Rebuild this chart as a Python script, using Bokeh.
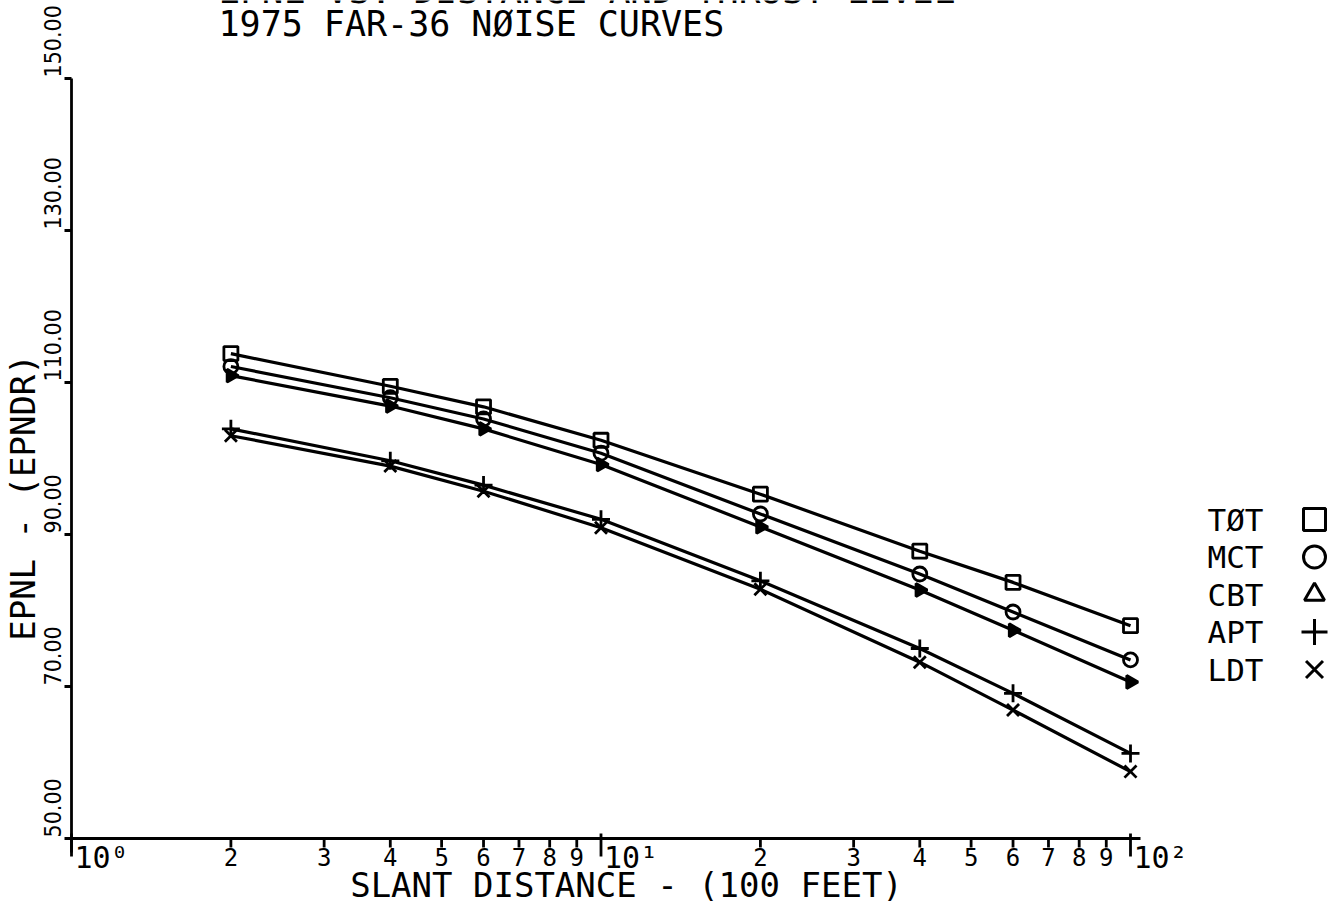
from math import pi, log10
from bokeh.plotting import figure
from bokeh.models import Range1d
from bokeh.core.properties import value
from bokeh.embed import file_html
from bokeh.resources import INLINE

# ---------------- data ----------------
distance = [2, 4, 6, 10, 20, 40, 60, 100]          # slant distance (100 ft)
series_names = ["TØT", "MCT", "CBT", "APT", "LDT"]
tot = [113.8, 109.5, 106.8, 102.4, 95.3, 87.8, 83.7, 78.0]
mct = [112.1, 108.0, 105.2, 100.7, 92.7, 84.8, 79.8, 73.5]
cbt = [110.9, 106.9, 103.9, 99.2, 91.0, 82.7, 77.4, 70.6]
apt = [103.9, 99.7, 96.5, 92.0, 83.9, 75.0, 69.1, 61.2]
ldt = [103.0, 99.0, 95.7, 90.9, 82.8, 73.2, 66.9, 58.8]
series_values = [tot, mct, cbt, apt, ldt]

y_ticks = [50, 70, 90, 110, 130, 150]
y_tick_labels = ["50.00", "70.00", "90.00", "110.00", "130.00", "150.00"]
x_decades = [1, 10, 100]
x_decade_labels = ["10⁰", "10¹", "10²"]
x_minor = [2, 3, 4, 5, 6, 7, 8, 9, 20, 30, 40, 50, 60, 70, 80, 90]
x_minor_labels = ["2", "3", "4", "5", "6", "7", "8", "9",
                  "2", "3", "4", "5", "6", "7", "8", "9"]
title_lines = ["EPNL VS. DISTANCE AND THRUST LEVEL", "1975 FAR-36 NØISE CURVES"]
x_label = "SLANT DISTANCE - (100 FEET)"
y_label = "EPNL - (EPNDR)"

# ---------------- geometry (canvas pixels) ----------------
FONT = value("DejaVu Sans Mono")
FONT_TICK = value("DejaVu Sans Condensed")
W, H = 1334, 904
PX_X1, PX_X100 = 71, 1130          # pixel of x=1 and x=100
PX_Y150, PX_Y50 = 78, 838          # pixel of y=150 and y=50
DEC = (PX_X100 - PX_X1) / 2.0
UNIT = (PX_Y50 - PX_Y150) / 100.0


def px2x(px):
    return 10 ** ((px - PX_X1) / DEC)


def px2y(py):
    return 50 + (PX_Y50 - py) / UNIT


p = figure(width=W, height=H, x_axis_type="log",
           x_range=Range1d(px2x(0), px2x(W)), y_range=Range1d(px2y(H), px2y(0)),
           x_axis_location=None, y_axis_location=None,
           output_backend="svg", toolbar_location=None, title=None,
           min_border_left=0, min_border_right=0, min_border_top=0, min_border_bottom=0)
p.outline_line_color = None
p.xgrid.grid_line_color = None
p.ygrid.grid_line_color = None
p.background_fill_color = "white"
p.border_fill_color = "white"

AX = dict(line_color="black", line_width=2.8)
ymin, ymax = y_ticks[0], y_ticks[-1]
xmin, xmax = x_decades[0], x_decades[-1]

# y axis line (with small tail below the x axis) and ticks
p.segment(x0=[xmin], y0=[px2y(PX_Y50 + 14)], x1=[xmin], y1=[ymax], **AX)
p.segment(x0=[px2x(PX_X1 - 7)] * len(y_ticks), y0=y_ticks,
          x1=[xmin] * len(y_ticks), y1=y_ticks, **AX)
# x axis line and ticks
p.segment(x0=[px2x(PX_X1 - 6)], y0=[ymin], x1=[px2x(PX_X100 + 10)], y1=[ymin], **AX)
p.segment(x0=x_decades, y0=[px2y(PX_Y50 - 5)] * 3, x1=x_decades,
          y1=[px2y(PX_Y50 + 18)] * 3, **AX)
p.segment(x0=x_minor, y0=[ymin] * len(x_minor), x1=x_minor,
          y1=[px2y(PX_Y50 + 9)] * len(x_minor), **AX)

# tick labels
p.text(x=[px2x(52)] * len(y_ticks), y=y_ticks, text=y_tick_labels, angle=pi / 2,
       text_align="left", text_baseline="middle", y_offset=-1,
       text_font=FONT_TICK, text_font_size="23px", text_color="black")
p.text(x=x_minor, y=[px2y(856)] * len(x_minor), text=x_minor_labels,
       text_align="center", text_baseline="middle",
       text_font=FONT, text_font_size="24px", text_color="black")
p.text(x=x_decades, y=[px2y(857)] * len(x_decades), text=x_decade_labels, x_offset=3,
       text_align="left", text_baseline="middle",
       text_font=FONT, text_font_size="30px", text_color="black")

# axis titles
p.text(x=[px2x(626)], y=[px2y(884)], text=[x_label], text_align="center",
       text_baseline="middle", text_font=FONT, text_font_size="34px", text_color="black")
p.text(x=[px2x(22)], y=[px2y(497)], text=[y_label], angle=pi / 2, text_align="center",
       text_baseline="middle", text_font=FONT, text_font_size="34px", text_color="black")

# title lines (first one is cut by the top edge, as in the source)
p.text(x=[px2x(218)], y=[px2y(-10)], text=[title_lines[0]], text_align="left",
       text_baseline="middle", text_font=FONT, text_font_size="36px", text_color="black")
p.text(x=[px2x(218)], y=[px2y(23)], text=[title_lines[1]], text_align="left",
       text_baseline="middle", text_font=FONT, text_font_size="35px", text_color="black")

# curves
markers = ["square", "circle", "triangle", "cross", "x"]
fills = [None, None, "black", None, None]
angles = [0, 0, -pi / 2, 0, 0]
sizes = [14, 14, 13, 18, 17]
for vals, mk, fc, ang, sz in zip(series_values, markers, fills, angles, sizes):
    p.line(distance, vals, line_color="black", line_width=3.2)
    p.scatter(distance, vals, marker=mk, size=sz, angle=ang,
              line_color="black", fill_color=fc, line_width=2.8)

# legend (text left, symbol right)
n = len(series_names)
rows_y = [px2y(519 + 37.5 * i) for i in range(n)]
p.text(x=[px2x(1207)] * n, y=rows_y, text=series_names, text_align="left",
       text_baseline="middle", text_font=FONT, text_font_size="31px", text_color="black")
p.scatter(x=[px2x(1314)] * n, y=rows_y, marker=markers, size=[22, 22, 20, 26, 24],
          line_color="black", fill_color=None, line_width=3)

open("out.html", "w").write(file_html(p, INLINE))
